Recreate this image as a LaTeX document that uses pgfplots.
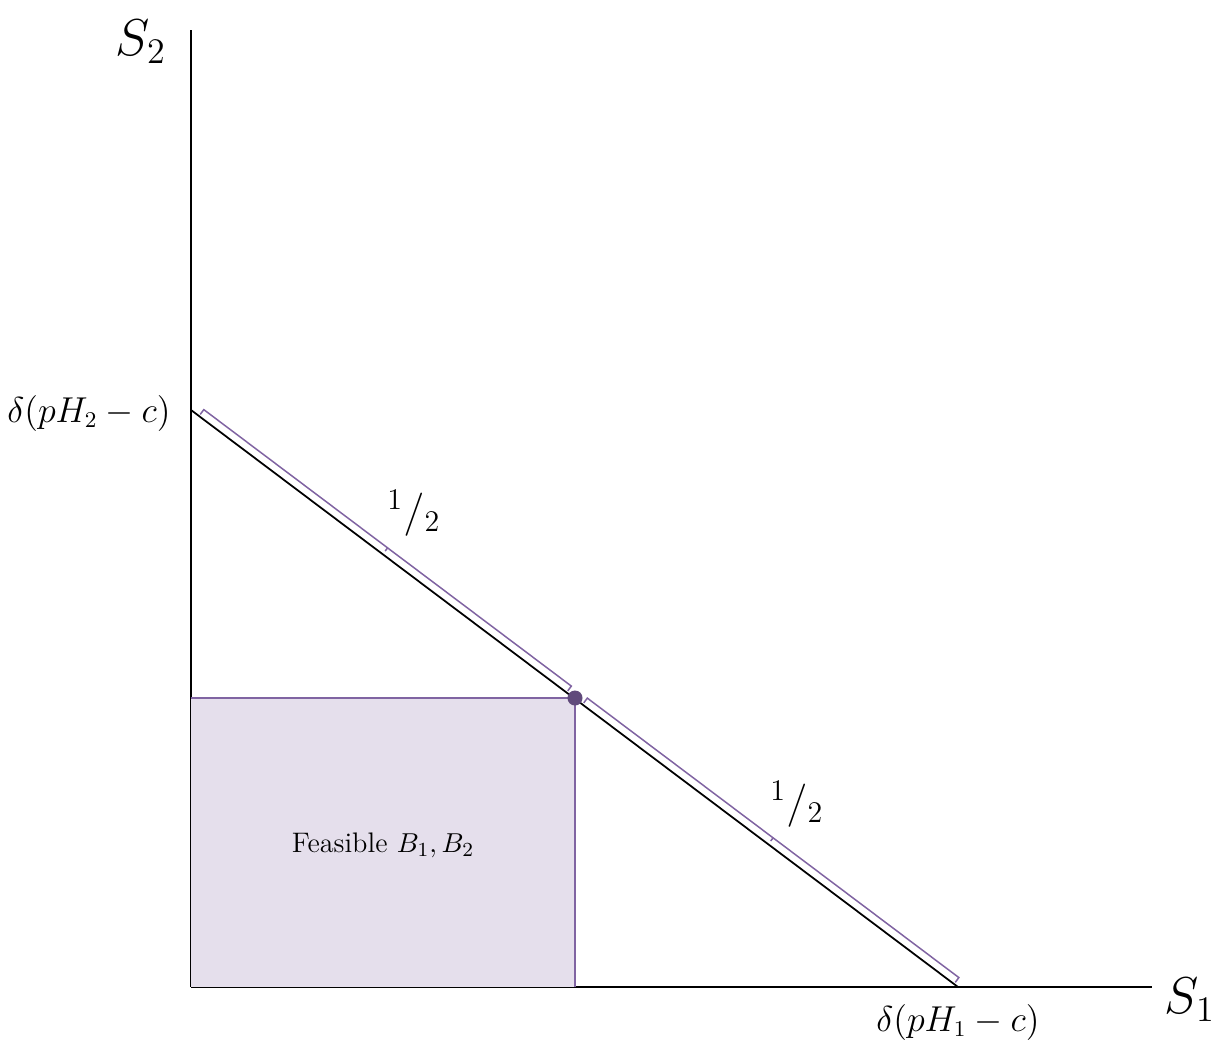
\documentclass[border=0pt]{standalone}
\usepackage{pgfplots}
\pgfplotsset{compat=1.18}
\definecolor{purp}{RGB}{128,100,162}
\definecolor{purpfill}{RGB}{229,223,236}
\definecolor{purpdark}{RGB}{96,74,123}
\begin{document}
\begin{tikzpicture}
\useasboundingbox (-76.4pt,-20.8pt) rectangle (410.4pt,394.8pt);
\begin{axis}[
  scale only axis, width=384.4pt, height=382.8pt,
  xmin=0, xmax=961, ymin=0, ymax=957,
  axis lines=left, axis line style={-, line width=0.8pt},
  ticks=none, clip=false,
]
% feasible rectangle
\addplot[fill=purpfill, draw=none] coordinates {(0,0) (384,0) (384,289) (0,289)} --cycle;
\addplot[purp, line width=0.6pt] coordinates {(0,289) (384,289)};
\addplot[purp, line width=0.6pt] coordinates {(384,0) (384,289)};
% budget line
\addplot[black, line width=0.7pt] coordinates {(0,577) (767,0)};
% brackets
\addplot[purp, line width=0.6pt] coordinates {(9.19,572.59) (12.80,577.38) (196.57,439.15) (194.16,435.96) (196.57,439.15) (380.34,300.92) (376.73,296.13)};
\addplot[purp, line width=0.6pt] coordinates {(392.71,284.11) (396.32,288.90) (582.09,149.17) (579.68,145.98) (582.09,149.17) (767.86,9.43) (764.25,4.64)};
% point
\addplot[only marks, mark=*, mark size=2.8pt, mark options={fill=purpdark, draw=purpdark}] coordinates {(384,289)};
% labels
\node[font=\fontsize{17}{20}\selectfont] at (axis cs:223,474) {${}^{1}/_{2}$};
\node[font=\fontsize{17}{20}\selectfont] at (axis cs:606,183) {${}^{1}/_{2}$};
\node[font=\fontsize{11.3}{13}\selectfont] at (axis cs:192,142) {Feasible $B_1, B_2$};
\node[font=\fontsize{19.5}{22}\selectfont] at (axis cs:-50,945) {$S_2$};
\node[font=\fontsize{19.5}{22}\selectfont] at (axis cs:999,-13) {$S_1$};
\node[font=\fontsize{13.3}{16}\selectfont] at (axis cs:-102,574) {$\delta(pH_2-c)$};
\node[font=\fontsize{13.3}{16}\selectfont] at (axis cs:767,-35) {$\delta(pH_1-c)$};
\end{axis}
\end{tikzpicture}
\end{document}
